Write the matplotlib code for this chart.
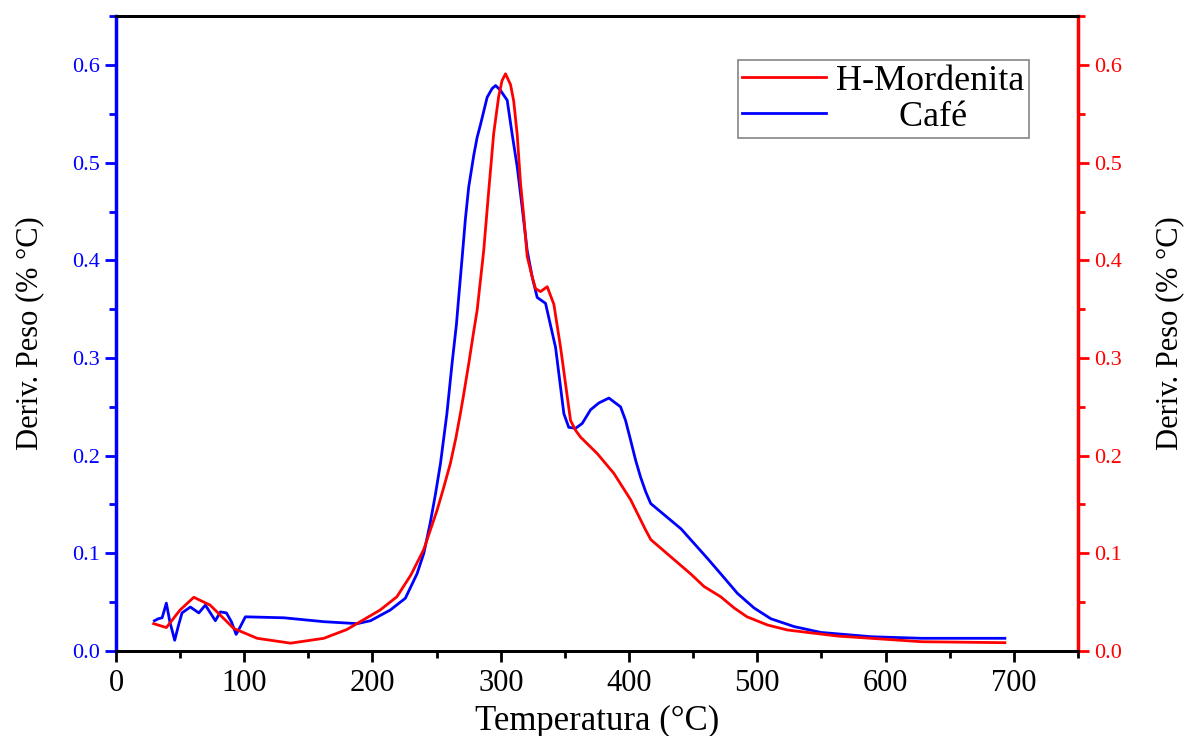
import matplotlib.pyplot as plt
from matplotlib.ticker import MultipleLocator

plt.rcParams['font.family'] = ['Liberation Serif', 'DejaVu Serif']

# Café (blue) - DTG curve
cafe_t = [30, 33, 36, 39.3, 42, 45.8, 48.5, 51.5, 58, 64.6, 69.7, 77.5, 81.4, 86.1,
          90, 93.7, 97, 100.9, 130.9, 162.1, 188.1, 198.5, 213.9, 225.6, 234.7, 240,
          245, 249, 253, 258, 262, 265.4, 267.2, 269.9, 272.4, 275, 279, 281.6, 284,
          289.4, 293.3, 296, 299.8, 305, 308.9, 312.8, 316.7, 320.6, 324.5, 328.4,
          334.9, 342.7, 349.2, 353, 358.3, 363.5, 370, 376.5, 384.3, 393.4, 397.3,
          401.2, 405.2, 409, 413, 416.9, 440.6, 461, 471.5, 484.5, 497.5, 510.6, 528.7,
          549.6, 589, 628, 693]
cafe_d = [0.031, 0.033, 0.034, 0.049, 0.030, 0.011, 0.025, 0.039, 0.045, 0.039, 0.047,
          0.031, 0.040, 0.039, 0.030, 0.017, 0.025, 0.035, 0.034, 0.030, 0.028, 0.031,
          0.042, 0.054, 0.079, 0.100, 0.131, 0.160, 0.192, 0.243, 0.294, 0.334, 0.362,
          0.403, 0.442, 0.475, 0.508, 0.526, 0.538, 0.567, 0.576, 0.579, 0.574, 0.564,
          0.529, 0.496, 0.454, 0.410, 0.383, 0.362, 0.356, 0.311, 0.243, 0.229, 0.228,
          0.233, 0.247, 0.254, 0.259, 0.250, 0.236, 0.216, 0.195, 0.178, 0.163, 0.151,
          0.125, 0.095, 0.079, 0.059, 0.044, 0.033, 0.025, 0.019, 0.0146, 0.013, 0.013]

# H-Mordenita (red)
mord_t = [29.4, 39.3, 50, 60.7, 73.4, 91.9, 110.1, 136.1, 162.1, 180, 193, 206, 219,
          230, 240, 250.3, 255, 260.7, 265, 268.5, 271, 275, 279, 281.6, 286.7, 290.6,
          294.5, 298.4, 301, 303.7, 307.6, 310.1, 312.8, 315.4, 318, 320.6, 324.5, 327.1,
          331, 336.2, 341.4, 346.6, 354.4, 358.3, 362.2, 375.3, 388.1, 401.2, 412.9,
          417, 448, 458.5, 471.5, 482, 492, 508, 523.5, 562.6, 600, 628, 693]
mord_d = [0.028, 0.024, 0.042, 0.055, 0.047, 0.023, 0.013, 0.008, 0.013, 0.022, 0.032,
          0.042, 0.0555, 0.078, 0.104, 0.144, 0.165, 0.192, 0.218, 0.243, 0.262, 0.294,
          0.328, 0.349, 0.410, 0.471, 0.530, 0.568, 0.584, 0.591, 0.580, 0.563, 0.529,
          0.479, 0.444, 0.404, 0.383, 0.371, 0.368, 0.373, 0.355, 0.311, 0.236, 0.226,
          0.219, 0.202, 0.182, 0.155, 0.124, 0.114, 0.079, 0.066, 0.0555, 0.044, 0.035,
          0.0266, 0.0215, 0.0153, 0.012, 0.0095, 0.0085]

fig = plt.figure(figsize=(11.88, 7.36), dpi=100)
ax = fig.add_axes([0.0976, 0.1155, 0.8098, 0.8625])
ax2 = ax.twinx()

l1, = ax2.plot(mord_t, mord_d, color='red', lw=2.0, label='H-Mordenita')
l2, = ax.plot(cafe_t, cafe_d, color='blue', lw=2.0, label='Café')

for a in (ax, ax2):
    a.set_xlim(0, 750)
    a.set_ylim(0, 0.65)
    a.yaxis.set_major_locator(MultipleLocator(0.1))
    a.yaxis.set_minor_locator(MultipleLocator(0.05))
    a.spines['top'].set_color('black')
    a.spines['bottom'].set_color('black')
    for s in a.spines.values():
        s.set_linewidth(2.0)

ax.xaxis.set_major_locator(MultipleLocator(100))
ax.xaxis.set_minor_locator(MultipleLocator(50))
ax.tick_params(axis='x', which='major', direction='out', length=8, width=2,
               labelsize=22, pad=5)
ax.tick_params(axis='x', which='minor', direction='out', length=5, width=2)

ax.spines['left'].set_color('blue')
ax.spines['left'].set_linewidth(2.5)
ax.tick_params(axis='y', which='both', colors='blue', width=2, labelsize=16)
ax.tick_params(axis='y', which='major', length=8)
ax.tick_params(axis='y', which='minor', length=5)
ax.yaxis.set_major_formatter(plt.FormatStrFormatter('%.1f'))

ax2.spines['right'].set_color('red')
ax2.spines['right'].set_linewidth(2.5)
ax2.spines['left'].set_visible(False)
ax2.tick_params(axis='y', which='both', colors='red', width=2, labelsize=16)
ax2.tick_params(axis='y', which='major', length=8)
ax2.tick_params(axis='y', which='minor', length=5)
ax2.yaxis.set_major_formatter(plt.FormatStrFormatter('%.1f'))

ax.set_xlabel('Temperatura (°C)', fontsize=25, labelpad=5)
ax.set_ylabel('Deriv. Peso (% °C)', fontsize=22, labelpad=20)
ax2.set_ylabel('Deriv. Peso (% °C)', fontsize=22, labelpad=24)

leg = ax2.legend([l1, l2], ['H-Mordenita', '       Café'], loc='upper right',
                 bbox_to_anchor=(0.949, 0.931), borderaxespad=0, fontsize=26,
                 frameon=True, fancybox=False, handlelength=2.3, handletextpad=0.3,
                 labelspacing=0.08, borderpad=0.12)
leg.get_frame().set_edgecolor('#666666')
leg.get_frame().set_linewidth(1.2)

fig.savefig('out.png', dpi=100)
